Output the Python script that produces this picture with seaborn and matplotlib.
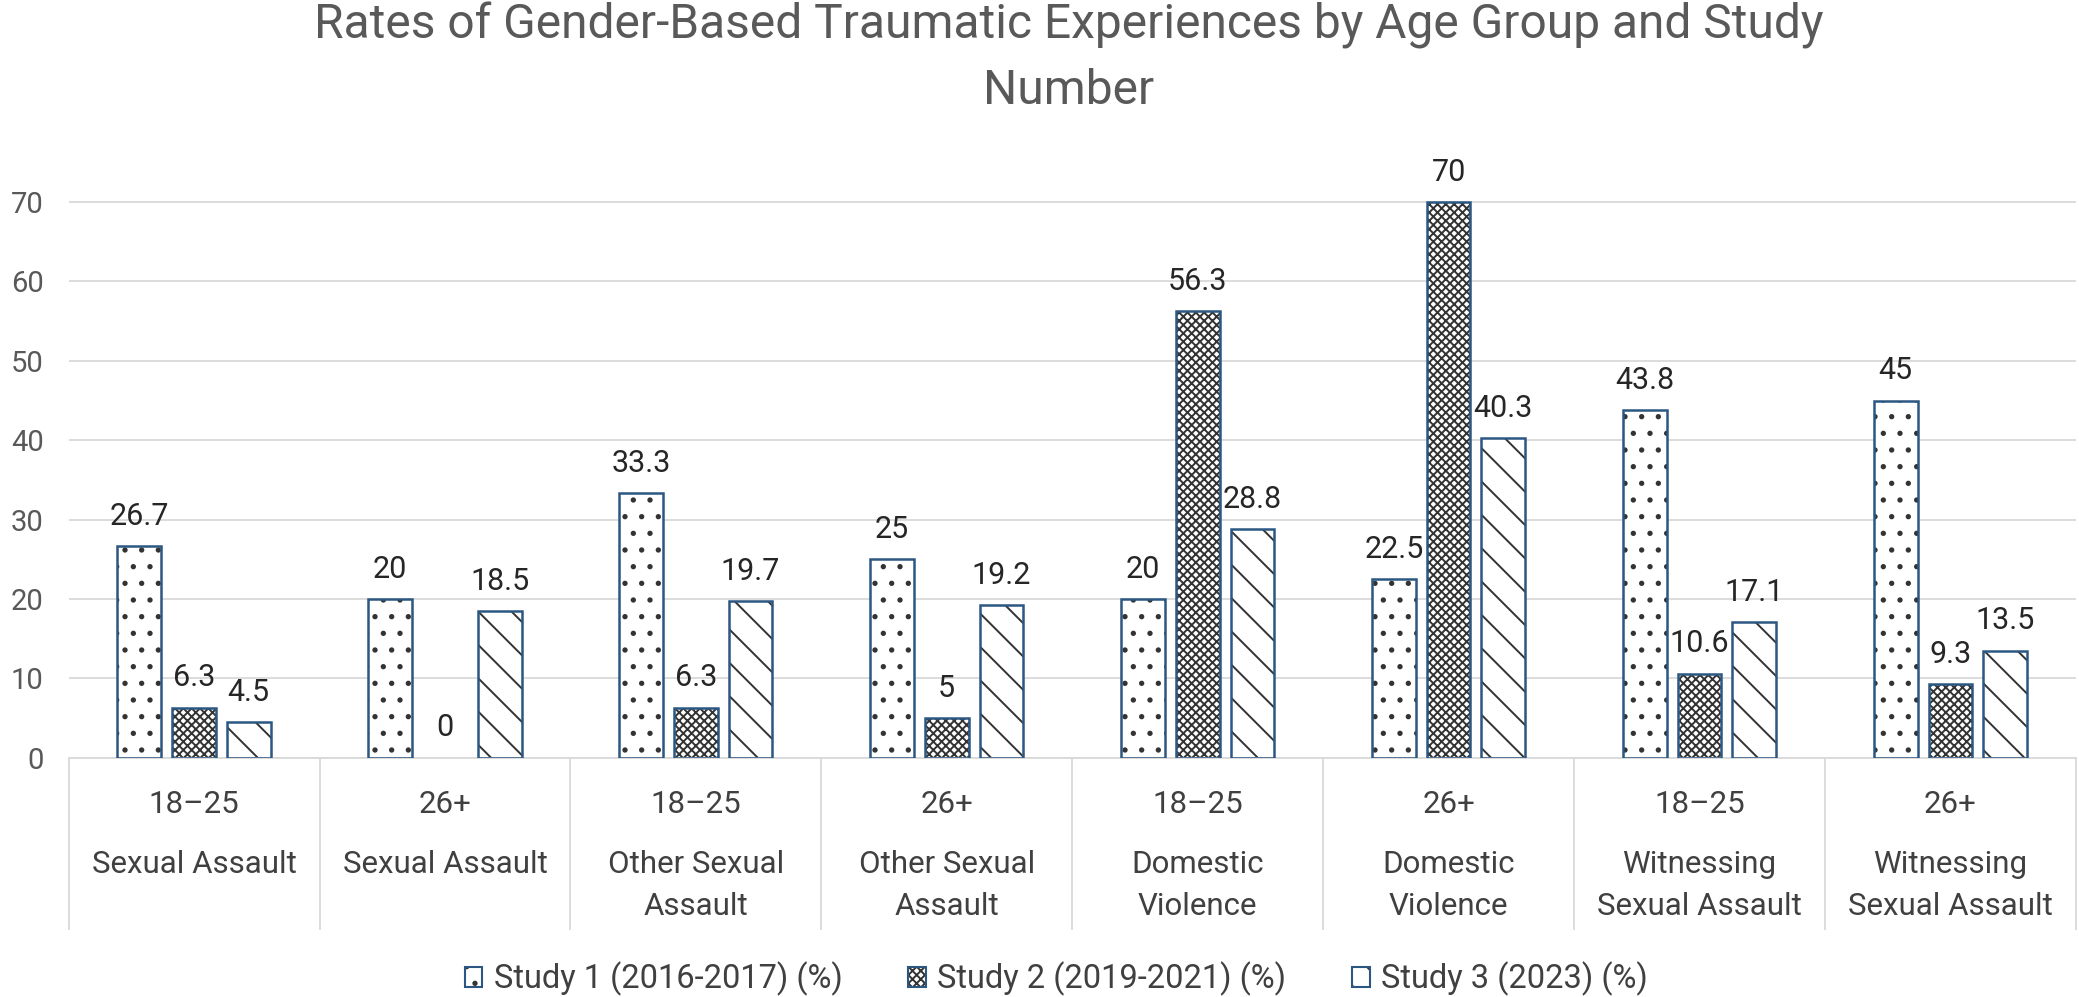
import numpy as np
import pandas as pd
import seaborn as sns
import matplotlib.pyplot as plt
from matplotlib.patches import Patch, Rectangle

# ---------------- data ----------------
ages = ["18–25", "26+", "18–25", "26+", "18–25", "26+", "18–25", "26+"]
types = ["Sexual Assault", "Sexual Assault",
         "Other Sexual\nAssault", "Other Sexual\nAssault",
         "Domestic\nViolence", "Domestic\nViolence",
         "Witnessing\nSexual Assault", "Witnessing\nSexual Assault"]
studies = ["Study 1 (2016-2017) (%)", "Study 2 (2019-2021) (%)", "Study 3 (2023) (%)"]
study1 = [26.7, 20, 33.3, 25, 20, 22.5, 43.8, 45]
study2 = [6.3, 0, 6.3, 5, 56.3, 70, 10.6, 9.3]
study3 = [4.5, 18.5, 19.7, 19.2, 28.8, 40.3, 17.1, 13.5]

cats = [a + " | " + t for a, t in zip(ages, types)]
rows = []
for name, vals in zip(studies, [study1, study2, study3]):
    for c, v in zip(cats, vals):
        rows.append({"cat": c, "val": v, "study": name})
d = pd.DataFrame(rows)

# ---------------- style ----------------
sns.set_theme(style="whitegrid")
plt.rcParams['font.family'] = ['Roboto', 'DejaVu Sans']
plt.rcParams['hatch.linewidth'] = 1.4

edge = "#2b5782"
hatch_col = "#333333"
hatches = [".", "xxxx", "\\"]

fig = plt.figure(figsize=(20.79, 9.97), dpi=100)
ax = fig.add_axes([0.033, 0.24, 0.9655, 0.621])

sns.barplot(data=d, x="cat", y="val", hue="study", order=cats, hue_order=studies,
            palette=["white"] * 3, width=0.654, gap=0.2, ax=ax, legend=False)

for cont, h in zip(ax.containers, hatches):
    for p in cont:
        p.set_hatch(h)
        p.set_edgecolor(hatch_col)
        p.set_linewidth(0)
        if p.get_height() > 0:
            ax.add_patch(Rectangle(p.get_xy(), p.get_width(), p.get_height(),
                                   fill=False, edgecolor=edge, linewidth=1.8, zorder=3))
    ax.bar_label(cont, labels=["{:g}".format(v) for v in cont.datavalues],
                 padding=11, fontsize=22, color="#262626")

ax.set_ylim(0, 78)
ax.set_xlim(-0.5, 7.5)
ax.set_yticks(range(0, 71, 10))
ax.tick_params(axis='y', labelsize=21, labelcolor="#595959", length=0, pad=18)
ax.set_xticks([])
ax.set_xlabel("")
ax.set_ylabel("")
ax.grid(axis='y', color="#d9d9d9", linewidth=1.3)
ax.grid(axis='x', visible=False)
for s in ["top", "left", "right"]:
    ax.spines[s].set_visible(False)
ax.spines["bottom"].set_color("#d9d9d9")
ax.spines["bottom"].set_linewidth(1.3)

# category box below the axis
ax.vlines(np.arange(-0.5, 8, 1), -21.7, 0, colors="#d9d9d9", linewidth=1.3, clip_on=False)
for i, (a, t) in enumerate(zip(ages, types)):
    ax.text(i, -5.9, a, ha='center', va='center', fontsize=22.5, color="#404040", clip_on=False)
    ax.text(i, -11.6, t, ha='center', va='top', fontsize=22.5, color="#404040",
            linespacing=1.58, clip_on=False)

fig.text(0.514, 0.998, "Rates of Gender-Based Traumatic Experiences by Age Group and Study\nNumber",
         ha='center', va='top', fontsize=34.5, color="#595959", linespacing=1.52)

handles = [(Patch(facecolor="white", edgecolor=hatch_col, hatch=h, linewidth=0),
            Patch(fill=False, edgecolor=edge, linewidth=1.5)) for h in hatches]
fig.legend(handles, studies, loc='center', bbox_to_anchor=(0.508, 0.018), ncol=3,
           frameon=False, fontsize=23.5, handlelength=0.55, handleheight=0.55,
           handletextpad=0.35, columnspacing=2.0, labelcolor="#404040")

plt.savefig("out.png", dpi=100)
